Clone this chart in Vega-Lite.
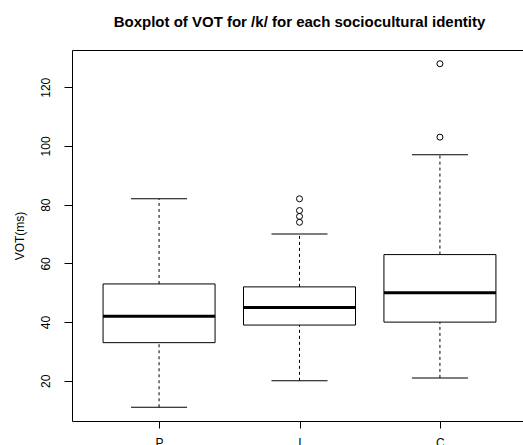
{
  "$schema": "https://vega.github.io/schema/vega-lite/v6.json",
  "autosize": {"type": "none"},
  "padding": {"left": 72, "top": 50, "right": -4, "bottom": 24},
  "width": 455,
  "height": 371,
  "background": "white",
  "title": {
    "text": "Boxplot of VOT for /k/ for each sociocultural identity",
    "font": "Liberation Sans",
    "fontSize": 15,
    "fontWeight": "bold",
    "color": "black",
    "anchor": "middle",
    "offset": 20
  },
  "datasets": {
    "stats": [
      {"group": "P", "lower": 11, "q1": 33, "median": 42, "q3": 53, "upper": 82},
      {"group": "I", "lower": 20, "q1": 39, "median": 45, "q3": 52, "upper": 70},
      {"group": "C", "lower": 21, "q1": 40, "median": 50, "q3": 63, "upper": 97}
    ],
    "outliers": [
      {"group": "I", "value": 82},
      {"group": "I", "value": 78},
      {"group": "I", "value": 76},
      {"group": "I", "value": 74},
      {"group": "C", "value": 103},
      {"group": "C", "value": 128}
    ]
  },
  "encoding": {
    "x": {
      "field": "group",
      "type": "nominal",
      "sort": ["P", "I", "C"],
      "scale": {"type": "point", "padding": 0.62},
      "axis": {
        "title": null,
        "labelAngle": 0,
        "domain": false,
        "tickSize": 7,
        "tickColor": "black",
        "labelPadding": 9,
        "labelFont": "Liberation Sans",
        "labelFontSize": 12,
        "labelColor": "black",
        "grid": false
      }
    }
  },
  "layer": [
    {
      "data": {"name": "stats"},
      "mark": {"type": "rule", "strokeDash": [3, 3], "color": "black", "strokeWidth": 1},
      "encoding": {
        "y": {
          "field": "q3",
          "type": "quantitative",
          "scale": {"domain": [6.32, 132.68], "nice": false, "zero": false},
          "axis": {
            "title": "VOT(ms)",
            "values": [20, 40, 60, 80, 100, 120],
            "labelAngle": -90,
            "labelAlign": "center",
            "labelBaseline": "bottom",
            "labelPadding": 12,
            "tickSize": 8,
            "tickColor": "black",
            "domain": false,
            "grid": false,
            "labelFont": "Liberation Sans",
            "labelFontSize": 12,
            "labelColor": "black",
            "titleFont": "Liberation Sans",
            "titleFontSize": 12,
            "titleFontWeight": "normal",
            "titleColor": "black",
            "titlePadding": 13
          }
        },
        "y2": {"field": "upper"}
      }
    },
    {
      "data": {"name": "stats"},
      "mark": {"type": "rule", "strokeDash": [3, 3], "color": "black", "strokeWidth": 1},
      "encoding": {
        "y": {"field": "lower", "type": "quantitative"},
        "y2": {"field": "q1"}
      }
    },
    {
      "data": {"name": "stats"},
      "mark": {"type": "tick", "orient": "horizontal", "size": 56, "thickness": 1, "color": "black", "opacity": 1},
      "encoding": {"y": {"field": "upper", "type": "quantitative"}}
    },
    {
      "data": {"name": "stats"},
      "mark": {"type": "tick", "orient": "horizontal", "size": 56, "thickness": 1, "color": "black", "opacity": 1},
      "encoding": {"y": {"field": "lower", "type": "quantitative"}}
    },
    {
      "data": {"name": "stats"},
      "mark": {"type": "bar", "size": 112, "fill": "white", "stroke": "black", "strokeWidth": 1},
      "encoding": {
        "y": {"field": "q1", "type": "quantitative"},
        "y2": {"field": "q3"}
      }
    },
    {
      "data": {"name": "stats"},
      "mark": {"type": "tick", "orient": "horizontal", "size": 112, "thickness": 3, "color": "black", "opacity": 1},
      "encoding": {"y": {"field": "median", "type": "quantitative"}}
    },
    {
      "data": {"name": "outliers"},
      "mark": {"type": "point", "shape": "circle", "filled": false, "size": 36, "color": "black", "strokeWidth": 1, "opacity": 1},
      "encoding": {"y": {"field": "value", "type": "quantitative"}}
    }
  ],
  "config": {
    "view": {"stroke": "black", "strokeWidth": 1}
  }
}
